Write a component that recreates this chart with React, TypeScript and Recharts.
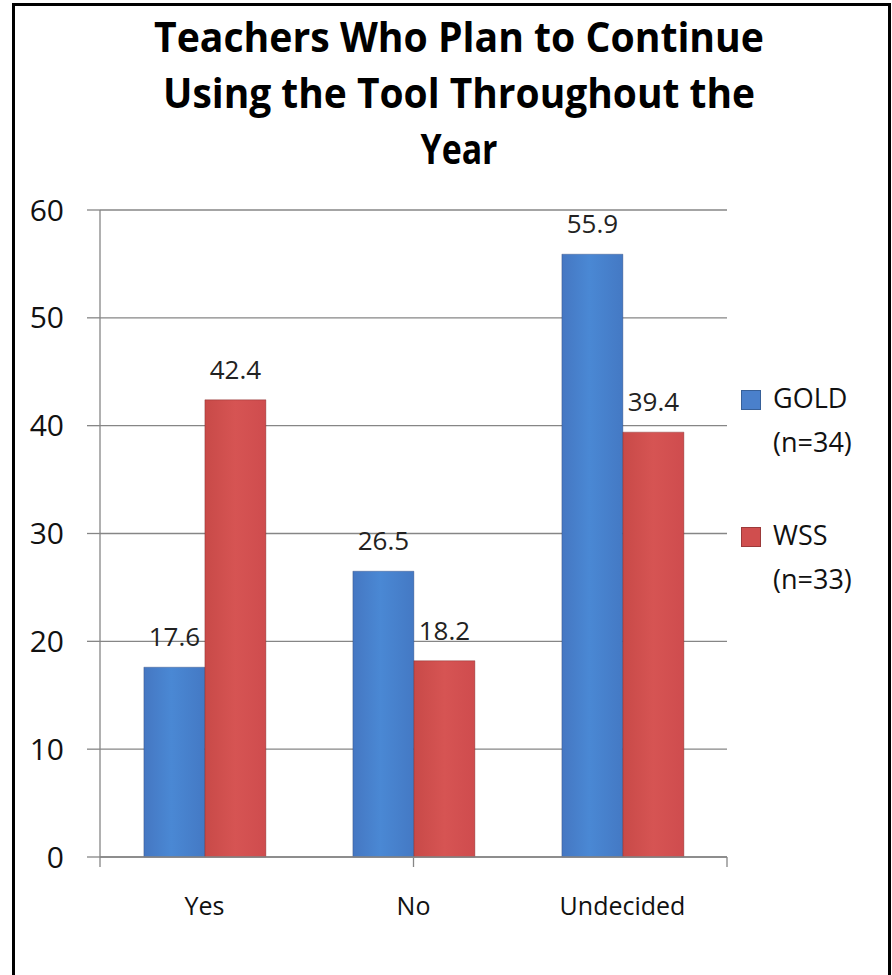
import React from 'react';
import { BarChart, Bar, XAxis, YAxis, CartesianGrid, Legend, LabelList } from 'recharts';

const categories = ['Yes', 'No', 'Undecided'];
const goldValues = [17.6, 26.5, 55.9];
const wssValues = [42.4, 18.2, 39.4];
const yTicks = [0, 10, 20, 30, 40, 50, 60];
const boundaryTicks = [0, 1, 2, 3];
const seriesNames = ['GOLD (n=34)', 'WSS (n=33)'];
const seriesColors = ['#4a80cb', '#d04e4e'];
const titleLines = ['Teachers Who Plan to Continue', 'Using the Tool Throughout the', 'Year'];
const titleLengths = [610, 592, 77];

const data = categories.map((c, i) => ({ name: c, gold: goldValues[i], wss: wssValues[i] }));

const FONT = '"Open Sans", "DejaVu Sans", sans-serif';
const GRID = '#868686';

const renderLegend = () => (
  <div style={{ position: 'relative', width: 150, height: 240, fontFamily: FONT, fontSize: 27, color: '#111' }}>
    {seriesNames.map((n, i) => {
      const parts = n.split(' ');
      return (
        <div key={n} style={{ position: 'absolute', left: 0, top: i * 137, width: 150 }}>
          <div
            style={{
              position: 'absolute',
              left: 3,
              top: 14,
              width: 20,
              height: 20,
              background: seriesColors[i],
              boxShadow: 'inset 0 0 0 1px rgba(0,0,0,0.25)',
            }}
          />
          <div style={{ position: 'absolute', left: 35, top: 0, lineHeight: '44px', whiteSpace: 'nowrap' }}>
            {parts[0]}
            <br />
            {parts[1]}
          </div>
        </div>
      );
    })}
  </div>
);

export default function App() {
  return (
    <div
      style={{
        position: 'absolute',
        left: 0,
        top: 0,
        width: 892,
        height: 975,
        background: '#fff',
        overflow: 'hidden',
      }}
    >
      <div
        style={{
          position: 'absolute',
          left: 12,
          top: 3,
          width: 879,
          height: 1000,
          border: '3px solid #000',
          boxSizing: 'border-box',
        }}
      />
      <svg width={892} height={200} style={{ position: 'absolute', left: 0, top: 0 }}>
        {titleLines.map((t, i) => (
          <text
            key={t}
            x={459}
            y={52 + i * 56}
            textAnchor="middle"
            fontFamily={FONT}
            fontWeight="bold"
            fontSize={41}
            fill="#000"
            textLength={titleLengths[i]}
            lengthAdjust="spacingAndGlyphs"
          >
            {t}
          </text>
        ))}
      </svg>
      <div style={{ position: 'absolute', left: 0, top: 0 }}>
        <BarChart
          width={892}
          height={975}
          data={data}
          margin={{ top: 210, right: 165, bottom: 57, left: 0 }}
          barCategoryGap="21%"
          barGap={0}
        >
          <defs>
            <linearGradient id="goldGrad" x1="0" y1="0" x2="1" y2="0">
              <stop offset="0%" stopColor="#4577c2" />
              <stop offset="45%" stopColor="#4a88d4" />
              <stop offset="100%" stopColor="#4479c4" />
            </linearGradient>
            <linearGradient id="wssGrad" x1="0" y1="0" x2="1" y2="0">
              <stop offset="0%" stopColor="#c84a48" />
              <stop offset="50%" stopColor="#d65453" />
              <stop offset="100%" stopColor="#cf4c4e" />
            </linearGradient>
          </defs>
          <CartesianGrid horizontal vertical={false} stroke={GRID} strokeWidth={1.3} />
          <XAxis
            xAxisId="bound"
            type="number"
            domain={[0, 3]}
            ticks={boundaryTicks}
            allowDataOverflow
            height={1}
            stroke={GRID}
            strokeWidth={1.3}
            tickSize={10}
            tick={() => <text />}
          />
          <XAxis
            xAxisId="cat"
            dataKey="name"
            height={60}
            axisLine={false}
            tickLine={false}
            tickSize={0}
            tickMargin={39}
            tick={{ fontFamily: FONT, fontSize: 25, fill: '#111' }}
          />
          <YAxis
            width={100}
            domain={[0, 60]}
            ticks={yTicks}
            stroke={GRID}
            strokeWidth={1.3}
            tickSize={13}
            tickMargin={23}
            tick={{ fontFamily: FONT, fontSize: 30, fill: '#111' }}
          />
          <Legend
            layout="vertical"
            align="center"
            verticalAlign="middle"
            wrapperStyle={{ left: 738, top: 376, width: 150, height: 240 }}
            content={renderLegend}
          />
          <Bar
            xAxisId="cat"
            dataKey="gold"
            name={seriesNames[0]}
            fill="url(#goldGrad)"
            stroke="rgba(40,60,110,0.35)"
            isAnimationActive={false}
          >
            <LabelList dataKey="gold" position="top" offset={21} style={{ fontFamily: FONT, fontSize: 26, fill: '#222' }} />
          </Bar>
          <Bar
            xAxisId="cat"
            dataKey="wss"
            name={seriesNames[1]}
            fill="url(#wssGrad)"
            stroke="rgba(110,30,30,0.35)"
            isAnimationActive={false}
          >
            <LabelList dataKey="wss" position="top" offset={21} style={{ fontFamily: FONT, fontSize: 26, fill: '#222' }} />
          </Bar>
        </BarChart>
      </div>
    </div>
  );
}
